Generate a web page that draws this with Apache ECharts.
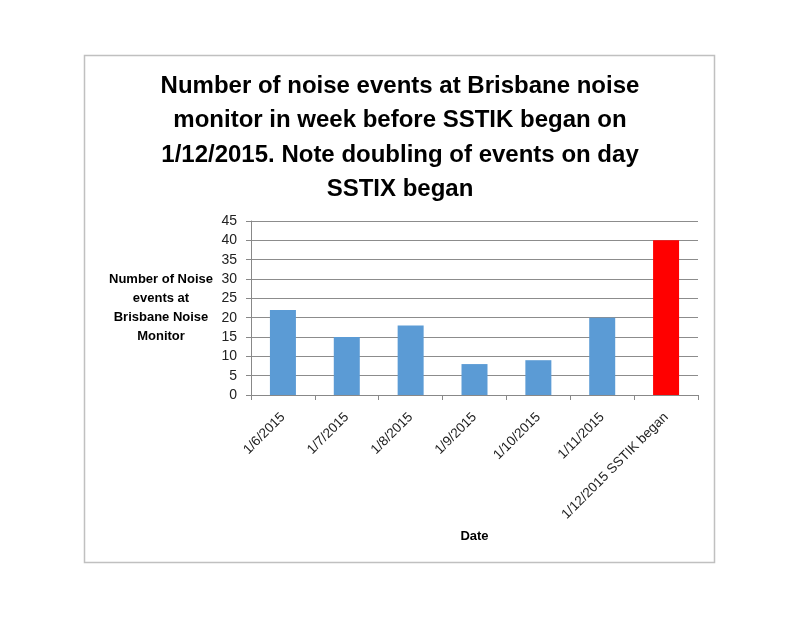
<!DOCTYPE html>
<html><head><meta charset="utf-8">
<script src="https://cdn.jsdelivr.net/npm/echarts@6/dist/echarts.min.js"></script>
<style>html,body{margin:0;padding:0;background:#fff}#c{width:800px;height:618px}</style>
</head><body><div id="c"></div>
<script>
const categories = ['1/6/2015','1/7/2015','1/8/2015','1/9/2015','1/10/2015','1/11/2015','1/12/2015 SSTIK began'];
const values = [22, 15, 18, 8, 9, 20, 40];
const barColors = ['#5B9BD5','#5B9BD5','#5B9BD5','#5B9BD5','#5B9BD5','#5B9BD5','#FF0000'];
const titleText = 'Number of noise events at Brisbane noise\nmonitor in week before SSTIK began on\n1/12/2015. Note doubling of events on day\nSSTIX began';
const yName = 'Number of Noise\nevents at\nBrisbane Noise\nMonitor';
const xName = 'Date';

const font = 'Liberation Sans, Arial, sans-serif';
const chart = echarts.init(document.getElementById('c'), null, {renderer:'canvas'});
chart.setOption({
  backgroundColor:'#fff',
  animation:false,
  graphic:[{type:'rect', shape:{x:84.5,y:55.5,width:630,height:507}, style:{fill:'none', stroke:'#c0c0c0', lineWidth:1.5}, silent:true}],
  title:{text:titleText, left:'center', top:64, textStyle:{fontFamily:font, fontWeight:'bold', fontSize:24, lineHeight:34.5, color:'#000'}},
  grid:{left:251, right:102, top:221, bottom:223, containLabel:false},
  xAxis:{type:'category', data:categories,
    name:xName, nameLocation:'middle', nameGap:135, nameMoveOverlap:false,
    nameTextStyle:{fontFamily:font, fontWeight:'bold', fontSize:13, color:'#000'},
    axisLine:{lineStyle:{color:'#888', width:1}},
    axisTick:{show:true, length:5, lineStyle:{color:'#888'}},
    axisLabel:{rotate:45, interval:0, margin:20, fontFamily:font, fontSize:13.5, color:'#222'}
  },
  yAxis:{type:'value', min:0, max:45, interval:5,
    name:yName, nameLocation:'middle', nameRotate:0, nameGap:90, nameMoveOverlap:false,
    nameTextStyle:{fontFamily:font, fontWeight:'bold', fontSize:13, lineHeight:19, color:'#000', align:'center', verticalAlign:'middle', padding:[12,0,0,0]},
    axisLine:{show:true, lineStyle:{color:'#888'}},
    axisTick:{show:true, length:5, lineStyle:{color:'#888'}},
    axisLabel:{margin:14, fontFamily:font, fontSize:14, color:'#222'},
    splitLine:{lineStyle:{color:'#8c8c8c', width:1}}
  },
  series:[{type:'bar', barWidth:26,
    data: values.map((v,i)=>({value:v, itemStyle:{color:barColors[i]}}))
  }]
});
</script></body></html>
